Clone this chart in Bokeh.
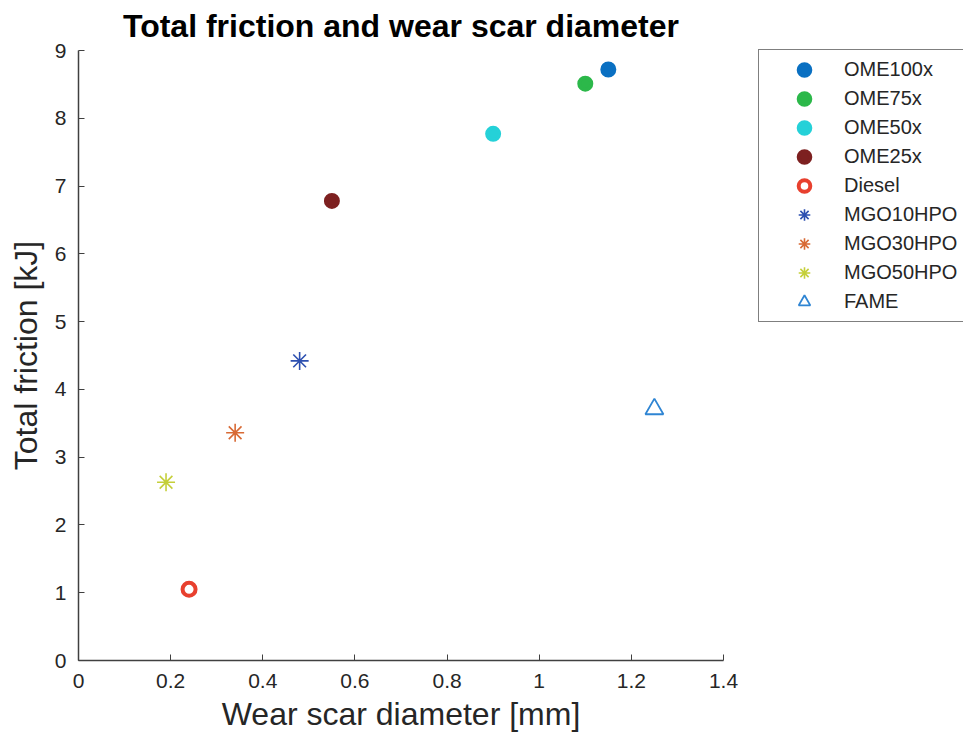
from bokeh.plotting import figure
from bokeh.models import Range1d, FixedTicker, Legend, LegendItem, ColumnDataSource
from bokeh.embed import file_html
from bokeh.resources import INLINE

# ---- data ----
names = ["OME100x", "OME75x", "OME50x", "OME25x", "Diesel",
         "MGO10HPO", "MGO30HPO", "MGO50HPO", "FAME"]
wear_scar = [1.15, 1.10, 0.90, 0.55, 0.24, 0.48, 0.34, 0.19, 1.25]
friction = [8.72, 8.51, 7.77, 6.78, 1.05, 4.42, 3.36, 2.63, 3.71]
colors = ["#0a70c2", "#2cb84a", "#25d1d8", "#7d2020", "#e8402e",
          "#2c4fb0", "#d86a35", "#c5cf3a", "#2f85d3"]
markers = ["circle", "circle", "circle", "circle", "circle",
           "asterisk", "asterisk", "asterisk", "triangle"]
filled = [True, True, True, True, False, False, False, False, False]

x_ticks = [0, 0.2, 0.4, 0.6, 0.8, 1.0, 1.2, 1.4]
x_tick_labels = ["0", "0.2", "0.4", "0.6", "0.8", "1", "1.2", "1.4"]
y_ticks = [0, 1, 2, 3, 4, 5, 6, 7, 8, 9]
y_tick_labels = ["0", "1", "2", "3", "4", "5", "6", "7", "8", "9"]

FONT = "Liberation Sans"
TXT = "#262626"

p = figure(frame_width=645, frame_height=610,
           x_range=Range1d(0, 1.4), y_range=Range1d(0, 9),
           output_backend="svg", toolbar_location=None,
           min_border_left=78, min_border_right=240,
           min_border_top=50, min_border_bottom=85,
           title="Total friction and wear scar diameter")

p.title.align = "center"
p.title.vertical_align = "top"
p.title.text_font = FONT
p.title.text_font_size = "32px"
p.title.text_font_style = "bold"
p.title.text_color = "#000000"
p.title.standoff = 10

p.outline_line_color = None
p.grid.visible = False
p.background_fill_color = "white"
p.border_fill_color = "white"

for ax in (p.xaxis[0], p.yaxis[0]):
    ax.axis_line_color = "#404040"
    ax.axis_line_width = 1.5
    ax.major_tick_line_color = "#404040"
    ax.major_tick_line_width = 1
    ax.major_tick_in = 6
    ax.major_tick_out = 0
    ax.minor_tick_line_color = None
    ax.major_label_text_font = FONT
    ax.major_label_text_font_size = "21px"
    ax.major_label_text_color = TXT
    ax.axis_label_text_font = FONT
    ax.axis_label_text_font_size = "32px"
    ax.axis_label_text_font_style = "normal"
    ax.axis_label_text_color = TXT

p.xaxis.ticker = FixedTicker(ticks=x_ticks)
p.xaxis.major_label_overrides = dict(zip(x_ticks, x_tick_labels))
p.yaxis.ticker = FixedTicker(ticks=y_ticks)
p.yaxis.major_label_overrides = dict(zip(y_ticks, y_tick_labels))
p.xaxis.axis_label = "Wear scar diameter [mm]"
p.yaxis.axis_label = "Total friction [kJ]"
p.xaxis.major_label_standoff = 13
p.xaxis.axis_label_standoff = 5
p.yaxis.major_label_standoff = 12
p.yaxis.axis_label_standoff = 8

nan = float("nan")
items = []
for i, name in enumerate(names):
    src = ColumnDataSource(dict(x=[wear_scar[i]], y=[friction[i]]))
    m = markers[i]
    if m == "circle" and filled[i]:
        r = p.scatter("x", "y", source=src, marker="circle", size=12,
                      fill_color=colors[i], line_color=colors[i], line_width=4)
    elif m == "circle":
        r = p.scatter("x", "y", source=src, marker="circle", size=13,
                      fill_color=None, line_color=colors[i], line_width=4)
    elif m == "asterisk":
        r = p.scatter("x", "y", source=src, marker="asterisk", size=18,
                      line_color=colors[i], line_width=1.6)
    else:
        r = p.scatter("x", "y", source=src, marker="triangle", size=18,
                      fill_color=None, line_color=colors[i], line_width=1.8)
    items.append(LegendItem(label=name, renderers=[r]))

legend = Legend(items=items, location=(35, 338),
                label_text_font=FONT, label_text_font_size="20px",
                label_text_color=TXT,
                glyph_width=80, glyph_height=29, label_height=20,
                label_width=114, label_standoff=0, spacing=0,
                padding=5, margin=0,
                border_line_color="#000000", border_line_width=1,
                background_fill_color="white", background_fill_alpha=1)
p.add_layout(legend, "right")

open("out.html", "w").write(file_html(p, INLINE))
